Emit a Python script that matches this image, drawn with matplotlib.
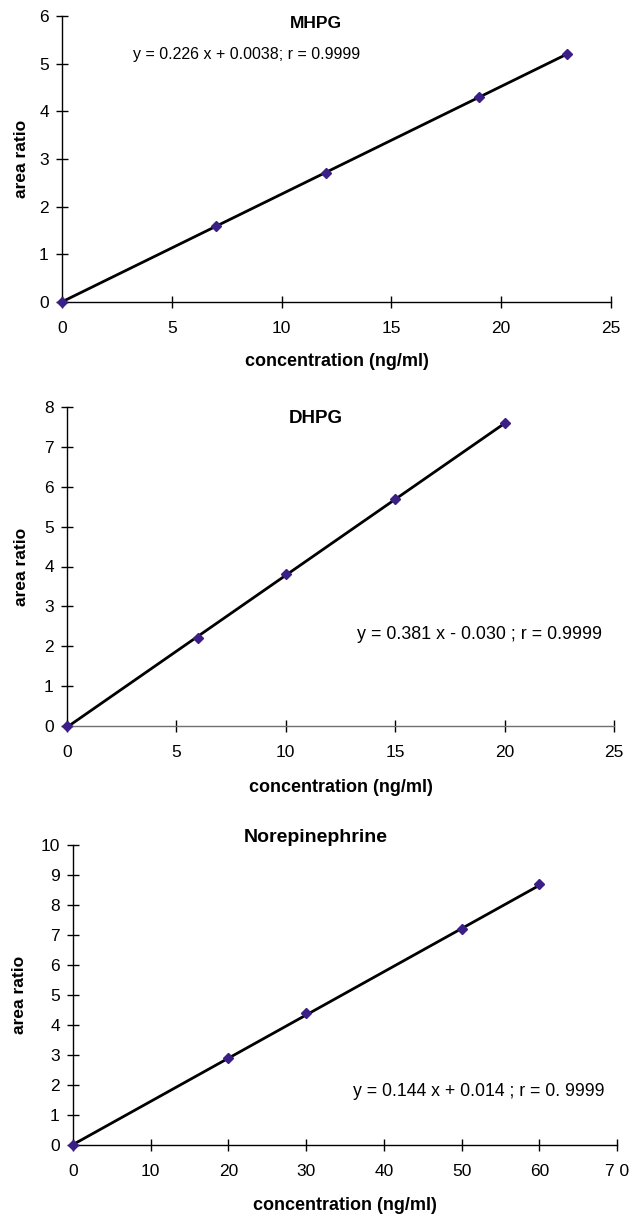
import matplotlib
matplotlib.use("Agg")
import matplotlib.pyplot as plt

plt.rcParams['font.family'] = ['Liberation Sans', 'DejaVu Sans']

# calibration data
mhpg_conc = [0, 7, 12, 19, 23]
mhpg_ratio = [0, 1.6, 2.7, 4.3, 5.2]
mhpg_fit = (0.226, 0.0038)

dhpg_conc = [0, 6, 10, 15, 20]
dhpg_ratio = [0, 2.2, 3.8, 5.7, 7.6]
dhpg_fit = (0.381, -0.030)

ne_conc = [0, 20, 30, 50, 60]
ne_ratio = [0, 2.9, 4.4, 7.2, 8.7]
ne_fit = (0.144, 0.014)

titles = ['MHPG', 'DHPG', 'Norepinephrine']
equations = ['y = 0.226 x + 0.0038; r = 0.9999',
             'y = 0.381 x - 0.030 ; r = 0.9999',
             'y = 0.144 x + 0.014 ; r = 0. 9999']
x_ticks = [[0, 5, 10, 15, 20, 25], [0, 5, 10, 15, 20, 25],
           [0, 10, 20, 30, 40, 50, 60, 70]]
x_ticklabels = [['0', '5', '10', '15', '20', '25'],
                ['0', '5', '10', '15', '20', '25'],
                ['0', '10', '20', '30', '40', '50', '60', '7 0']]
y_max = [6, 8, 10]

W, H = 637, 1215
fig = plt.figure(figsize=(W / 100, H / 100), dpi=100)


def fx(px):
    return px / W


def fy(py):
    return 1 - py / H


# pixel layout of each panel: left, right, bottom, top, title y, eq x, eq y, xlabel y, ylabel x
layout = [
    (62, 611, 302, 16, 23, 133, 55, 362, 22),
    (67, 614, 726, 407, 418, 357, 635, 787, 22),
    (73, 617, 1145, 845, 837, 353, 1092, 1205, 20),
]
eq_size = [11.5, 12.9, 12.7]
title_size = [12.5, 13.5, 14]

series = [(mhpg_conc, mhpg_ratio, mhpg_fit),
          (dhpg_conc, dhpg_ratio, dhpg_fit),
          (ne_conc, ne_ratio, ne_fit)]

for i, (xs, ys, (slope, icpt)) in enumerate(series):
    l, r, b, t, ty, ex, ey, xly, ylx = layout[i]
    ax = fig.add_axes([fx(l), fy(b), fx(r) - fx(l), fy(t) - fy(b)])

    x0, x1 = xs[0], xs[-1]
    ax.plot([x0, x1], [slope * x0 + icpt, slope * x1 + icpt],
            color='black', lw=2.0, zorder=2)
    ax.plot(xs, ys, 'D', color='#3b1f86', ms=4.8, clip_on=False, zorder=3)

    ax.set_xlim(x_ticks[i][0], x_ticks[i][-1])
    ax.set_ylim(0, y_max[i])
    ax.set_xticks(x_ticks[i])
    ax.set_xticklabels(x_ticklabels[i])
    ax.set_yticks(range(0, y_max[i] + 1))

    for side in ['top', 'right']:
        ax.spines[side].set_visible(False)
    for side in ['left', 'bottom']:
        ax.spines[side].set_linewidth(1.0)
    if i == 1:
        ax.spines['bottom'].set_color('#707070')

    ax.tick_params(direction='inout', length=9, width=1.0, labelsize=12.5)
    ax.tick_params(axis='x', pad=9)
    ax.tick_params(axis='y', pad=5)

    ax.set_xlabel('concentration (ng/ml)', fontsize=13, fontweight='bold',
                  va='center')
    ax.xaxis.set_label_coords((fx(l) + fx(r)) / 2, fy(xly),
                              transform=fig.transFigure)
    ax.set_ylabel('area ratio', fontsize=12.5, fontweight='bold', va='center')
    ax.yaxis.set_label_coords(fx(ylx), (fy(t) + fy(b)) / 2,
                              transform=fig.transFigure)

    fig.text(fx(316), fy(ty), titles[i], ha='center', va='center',
             fontsize=title_size[i], fontweight='bold')
    fig.text(fx(ex), fy(ey), equations[i], ha='left', va='center',
             fontsize=eq_size[i])

fig.savefig('out.png', dpi=100)
